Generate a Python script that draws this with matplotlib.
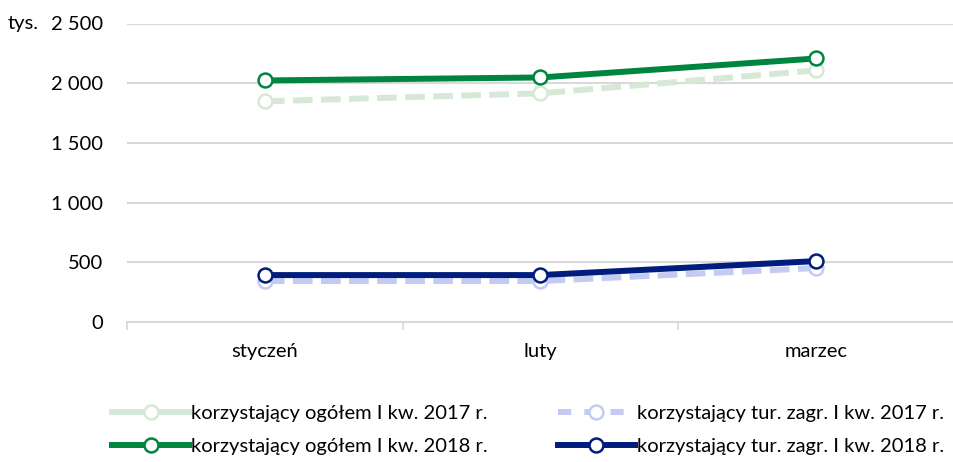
import matplotlib.pyplot as plt
import matplotlib.ticker as mticker
from matplotlib.lines import Line2D

plt.rcParams['font.family'] = ['Lato', 'DejaVu Sans']

months = ['styczeń', 'luty', 'marzec']
ogolem_2017 = [1848, 1915, 2107]
ogolem_2018 = [2023, 2048, 2207]
zagr_2017 = [343, 343, 452]
zagr_2018 = [393, 393, 510]

labels = ['korzystający ogółem I kw. 2017 r.',
          'korzystający tur. zagr. I kw. 2017 r.',
          'korzystający ogółem I kw. 2018 r.',
          'korzystający tur. zagr. I kw. 2018 r.']

fig = plt.figure(figsize=(9.54, 4.62), dpi=100)
ax = fig.add_axes([127 / 954, 1 - 322 / 462, (954 - 127) / 954, (322 - 23.5) / 462])

x = range(len(months))
mk = dict(marker='o', markersize=10, markerfacecolor='white', markeredgewidth=1.8)

l1, = ax.plot(x, ogolem_2017, color='#d6e9d6', lw=4.3, ls=(0, (3.3, 1.4)), markeredgecolor='#d6e9d6', **mk)
l2, = ax.plot(x, zagr_2017, color='#c3cbf3', lw=4.3, ls=(0, (3.3, 1.4)), markeredgecolor='#c3cbf3', **mk)
l3, = ax.plot(x, ogolem_2018, color='#008540', lw=4.3, markeredgecolor='#008540', **mk)
l4, = ax.plot(x, zagr_2018, color='#001c7c', lw=4.3, markeredgecolor='#001c7c', **mk)

# legend shows the light green line as solid, the light blue one with short dashes
h1 = Line2D([], [], color='#d6e9d6', lw=4.3, markeredgecolor='#d6e9d6', **mk)
h2 = Line2D([], [], color='#c3cbf3', lw=4.3, ls=(0, (2.2, 2.2)), markeredgecolor='#c3cbf3', **mk)

ax.set_xlim(-0.5, 2.5)
ax.set_ylim(0, 2500)
ax.set_yticks(range(0, 2501, 500))
ax.yaxis.set_major_formatter(mticker.FuncFormatter(lambda v, p: f'{int(v):,}'.replace(',', ' ')))
ax.set_xticks(x)
ax.set_xticklabels(months)
ax.set_xticks([-0.5, 0.5, 1.5, 2.5], minor=True)
ax.tick_params(axis='x', which='major', length=0, pad=15, labelsize=14.5)
ax.tick_params(axis='x', which='minor', length=6, color='#d9d9d9', width=1.2)
ax.tick_params(axis='y', length=0, pad=17, labelsize=14.5)
ax.grid(axis='y', color='#d9d9d9', lw=1.5)
ax.set_axisbelow(True)
for s in ['top', 'right', 'left']:
    ax.spines[s].set_visible(False)
ax.spines['bottom'].set_color('#d9d9d9')
ax.spines['bottom'].set_linewidth(1.5)

fig.text(8 / 954, 1 - 24 / 462, 'tys.', fontsize=14.5, va='center')

# matplotlib fills legend columns first
leg = fig.legend([h1, l3, h2, l4], [labels[0], labels[2], labels[1], labels[3]],
                 ncol=2, loc='center',
                 bbox_to_anchor=(528 / 954, 1 - 430 / 462), frameon=False,
                 fontsize=14.5, handlelength=3.8, handletextpad=0.1,
                 columnspacing=3.5, labelspacing=0.75)

fig.savefig('out.png', dpi=100)
